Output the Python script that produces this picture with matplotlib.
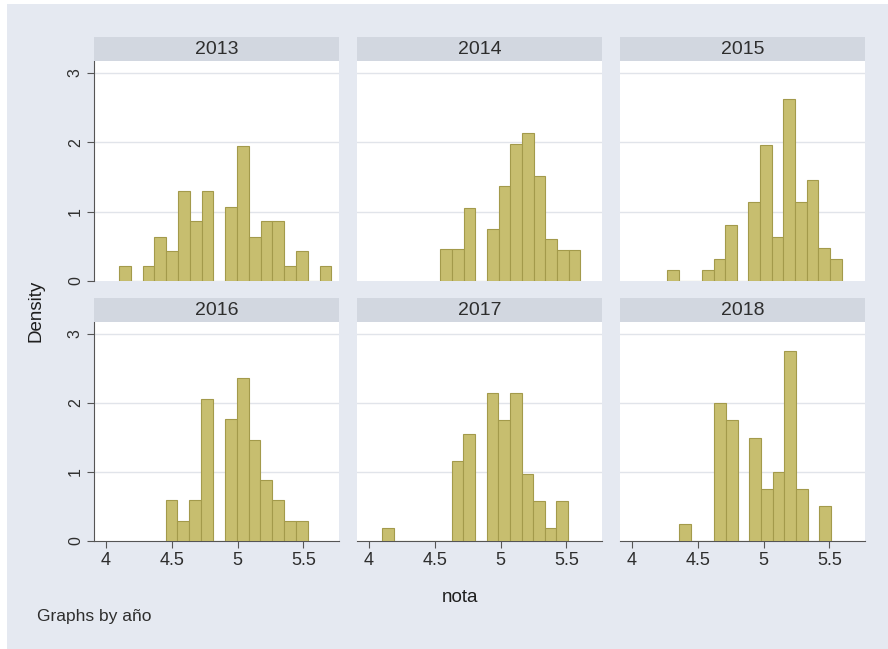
import matplotlib
matplotlib.use("Agg")
from matplotlib import pyplot as plt
import numpy as np

plt.rcParams['font.family'] = ['Liberation Sans', 'DejaVu Sans']

# histogram of nota by año (density scale)
years = [2013, 2014, 2015, 2016, 2017, 2018]
bin_start = [4.100, 4.542, 4.266, 4.454, 4.101, 4.360]
bin_width = [0.0896, 0.0886, 0.0885, 0.0899, 0.0882, 0.0887]

dens_2013 = [0.21, 0, 0.21, 0.64, 0.43, 1.29, 0.86, 1.29, 0, 1.07, 1.94, 0.64, 0.86, 0.86, 0.21, 0.43, 0, 0.21]
dens_2014 = [0.46, 0.46, 1.05, 0, 0.75, 1.37, 1.97, 2.13, 1.51, 0.60, 0.45, 0.45]
dens_2015 = [0.16, 0, 0, 0.16, 0.32, 0.81, 0, 1.14, 1.96, 0.64, 2.62, 1.14, 1.46, 0.48, 0.32]
dens_2016 = [0.59, 0.29, 0.59, 2.06, 0, 1.76, 2.36, 1.46, 0.88, 0.59, 0.29, 0.29]
dens_2017 = [0.19, 0, 0, 0, 0, 0, 1.16, 1.55, 0, 2.14, 1.75, 2.14, 0.97, 0.58, 0.19, 0.58]
dens_2018 = [0.25, 0, 0, 2.00, 1.75, 0, 1.49, 0.75, 1.00, 2.75, 0.75, 0, 0.50]
densities = [dens_2013, dens_2014, dens_2015, dens_2016, dens_2017, dens_2018]

x_ticks = [4, 4.5, 5, 5.5]
x_ticklabels = ["4", "4.5", "5", "5.5"]
y_ticks = [0, 1, 2, 3]

bg = '#e5e9f1'
strip_col = '#d2d7e0'
bar_fill = '#c7be6f'
bar_edge = '#a39a4b'
axis_col = '#555555'
text_col = '#2e2e2e'

W, H = 888, 649
fig = plt.figure(figsize=(W / 100, H / 100), dpi=100, facecolor='white')
fig.patches.append(plt.Rectangle((7 / W, 0), 1, 1 - 4 / H, transform=fig.transFigure,
                                 facecolor=bg, edgecolor='none', zorder=-10))

col_left = [94, 357, 620]
col_w = 245
row_top = [61, 322]
row_bottom = [281, 541]
strip_h = 24

for i, yr in enumerate(years):
    r, c = divmod(i, 3)
    left = col_left[c] / W
    bottom = 1 - row_bottom[r] / H
    height = (row_bottom[r] - row_top[r]) / H
    ax = fig.add_axes([left, bottom, col_w / W, height])
    ax.set_facecolor('white')

    d = np.array(densities[i])
    edges = bin_start[i] + bin_width[i] * np.arange(len(d))
    ax.bar(edges, d, width=bin_width[i], align='edge', color=bar_fill,
           edgecolor=bar_edge, linewidth=0.8, zorder=3)

    ax.set_xlim(3.91, 5.77)
    ax.set_ylim(0, 3.17)
    ax.set_yticks(y_ticks)
    ax.set_xticks(x_ticks)
    for yv in y_ticks[1:]:
        ax.axhline(yv, color='#e1e4ea', linewidth=1.0, zorder=1)

    for s in ['top', 'right']:
        ax.spines[s].set_visible(False)
    ax.spines['left'].set_visible(c == 0)
    ax.spines['bottom'].set_visible(r == 1)
    ax.spines['left'].set_color(axis_col)
    ax.spines['bottom'].set_color(axis_col)

    if c == 0:
        ax.set_yticklabels([str(v) for v in y_ticks], rotation=90, va='center',
                           fontsize=11.5, color=text_col)
        ax.tick_params(axis='y', length=5, color=axis_col, pad=3)
    else:
        ax.tick_params(axis='y', left=False, labelleft=False)
    if r == 1:
        ax.set_xticklabels(x_ticklabels, fontsize=13, color=text_col)
        ax.tick_params(axis='x', length=5, color=axis_col, pad=3)
    else:
        ax.tick_params(axis='x', bottom=False, labelbottom=False)

    # strip with the year
    sax = fig.add_axes([left, 1 - (row_top[r]) / H, col_w / W, strip_h / H])
    sax.set_facecolor(strip_col)
    sax.set_xticks([])
    sax.set_yticks([])
    for s in sax.spines.values():
        s.set_visible(False)
    sax.text(0.5, 0.47, str(yr), ha='center', va='center', fontsize=14,
             color=text_col, transform=sax.transAxes)

fig.text(36 / W, 1 - 311 / H, "Density", rotation=90, ha='center', va='center',
         fontsize=13.5, color='#1e1e1e')
fig.text(460 / W, 1 - 597 / H, "nota", ha='center', va='center',
         fontsize=13.5, color='#1e1e1e')
fig.text(37 / W, 1 - 617 / H, "Graphs by año", ha='left', va='center',
         fontsize=12.5, color=text_col)

fig.savefig("out.png", dpi=100, facecolor=fig.get_facecolor())
